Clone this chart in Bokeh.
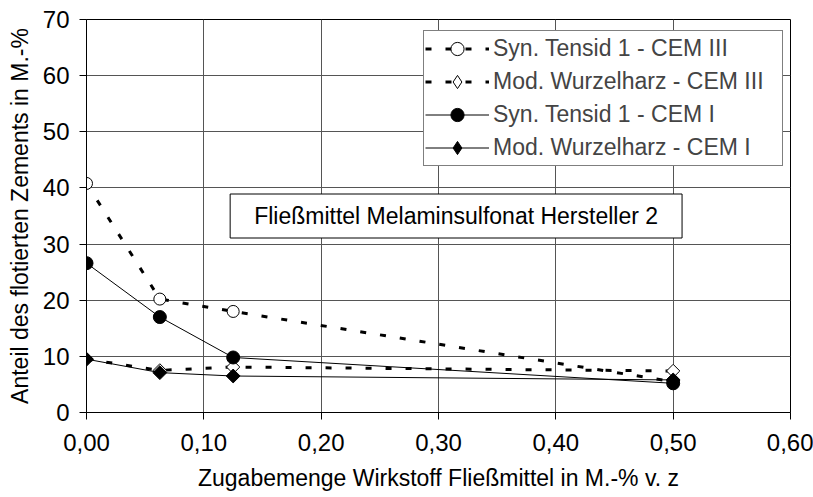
import math
from bokeh.plotting import figure
from bokeh.models import (Range1d, FixedTicker, CustomJSTickFormatter, Legend,
                          LegendItem, Label)
from bokeh.embed import file_html
from bokeh.resources import INLINE

# ---- data -------------------------------------------------------------
x_dose = [0.0, 0.0625, 0.125, 0.5]
tensid_cem3 = [40.8, 20.2, 18.0, 5.5]
wurzel_cem3 = [9.5, 7.5, 8.1, 7.4]
tensid_cem1 = [26.6, 17.0, 9.8, 5.2]
wurzel_cem1 = [9.5, 7.1, 6.5, 5.8]

x_ticks = [0.0, 0.1, 0.2, 0.3, 0.4, 0.5, 0.6]
y_ticks = [0, 10, 20, 30, 40, 50, 60, 70]

series_names = ["Syn. Tensid 1 - CEM III", "Mod. Wurzelharz - CEM III",
                "Syn. Tensid 1 - CEM I", "Mod. Wurzelharz - CEM I"]
x_title = "Zugabemenge Wirkstoff Fließmittel in M.-% v. z"
y_title = "Anteil des flotierten Zements in M.-%"
note_text = "Fließmittel Melaminsulfonat Hersteller 2"

FONT = "Liberation Sans"

p = figure(width=813, height=497, output_backend="svg", toolbar_location=None,
           x_range=Range1d(0, 0.6), y_range=Range1d(0, 70),
           min_border_left=86, min_border_right=23, min_border_top=19,
           min_border_bottom=85)
p.background_fill_color = "white"
p.border_fill_color = "white"
p.outline_line_color = "black"
p.outline_line_width = 1

# axes
p.xaxis.ticker = FixedTicker(ticks=x_ticks)
p.xaxis.formatter = CustomJSTickFormatter(code="return tick.toFixed(2).replace('.', ',');")
p.yaxis.ticker = FixedTicker(ticks=y_ticks)
for ax in (p.xaxis, p.yaxis):
    ax.axis_line_color = "black"
    ax.major_tick_line_color = "black"
    ax.minor_tick_line_color = None
    ax.major_tick_in = 0
    ax.major_tick_out = 7
    ax.major_label_text_font = FONT
    ax.major_label_text_font_size = "24px"
    ax.major_label_text_color = "black"
    ax.axis_label_text_font = FONT
    ax.axis_label_text_font_style = "normal"
    ax.axis_label_text_font_size = "23px"
    ax.axis_label_text_color = "black"
p.xaxis.major_label_standoff = 14
p.yaxis.major_label_standoff = 10
p.xaxis.axis_label = x_title
p.yaxis.axis_label = y_title
p.xaxis.axis_label_standoff = 11
p.yaxis.axis_label_standoff = 7

p.xgrid.grid_line_color = "#555555"
p.ygrid.grid_line_color = "#555555"
p.xgrid.grid_line_width = 1
p.ygrid.grid_line_width = 1

DASH = "6 14"
DIAMOND = math.pi / 4
# CEM III (dashed, open markers)
l1 = p.line(x_dose, tensid_cem3, line_color="black", line_width=3, line_dash=DASH)
m1 = p.scatter(x_dose, tensid_cem3, marker="circle", size=12, fill_color="white",
               line_color="black", line_width=1)
l2 = p.line(x_dose, wurzel_cem3, line_color="black", line_width=3, line_dash=DASH)
m2 = p.scatter(x_dose, wurzel_cem3, marker="square", size=9.4, angle=DIAMOND,
               fill_color="white", line_color="black", line_width=1)
# legend-only diamond (legend glyphs are not rotated); zero size in the plot
d2 = p.scatter(x_dose, wurzel_cem3, marker="diamond", size=0,
               fill_color="white", line_color="black", line_width=1)
# CEM I (solid, filled markers)
l3 = p.line(x_dose, tensid_cem1, line_color="black", line_width=1)
m3 = p.scatter(x_dose, tensid_cem1, marker="circle", size=13, fill_color="black",
               line_color="black")
l4 = p.line(x_dose, wurzel_cem1, line_color="black", line_width=1)
m4 = p.scatter(x_dose, wurzel_cem1, marker="square", size=9.8, angle=DIAMOND,
               fill_color="black", line_color="black")
d4 = p.scatter(x_dose, wurzel_cem1, marker="diamond", size=0,
               fill_color="black", line_color="black")

legend = Legend(items=[
    LegendItem(label=series_names[0], renderers=[l1, m1]),
    LegendItem(label=series_names[1], renderers=[l2, d2]),
    LegendItem(label=series_names[2], renderers=[l3, m3]),
    LegendItem(label=series_names[3], renderers=[l4, d4]),
], location=(337, 246), margin=0, padding=1, spacing=0,
    glyph_width=64, glyph_height=33, label_height=33, label_standoff=4,
    label_width=288,
    label_text_font=FONT, label_text_font_size="23px",
    border_line_color="black", border_line_width=1,
    background_fill_color="white", background_fill_alpha=1)
p.add_layout(legend)

note = Label(x=0.315, y=35.0, text=note_text, text_align="center",
             text_baseline="middle", text_font=FONT, text_font_size="23px",
             text_color="black", background_fill_color="white",
             border_line_color="black", border_line_width=1,
             padding=(24, 24, 9, 9))
p.add_layout(note)

open("out.html", "w").write(file_html(p, INLINE))
